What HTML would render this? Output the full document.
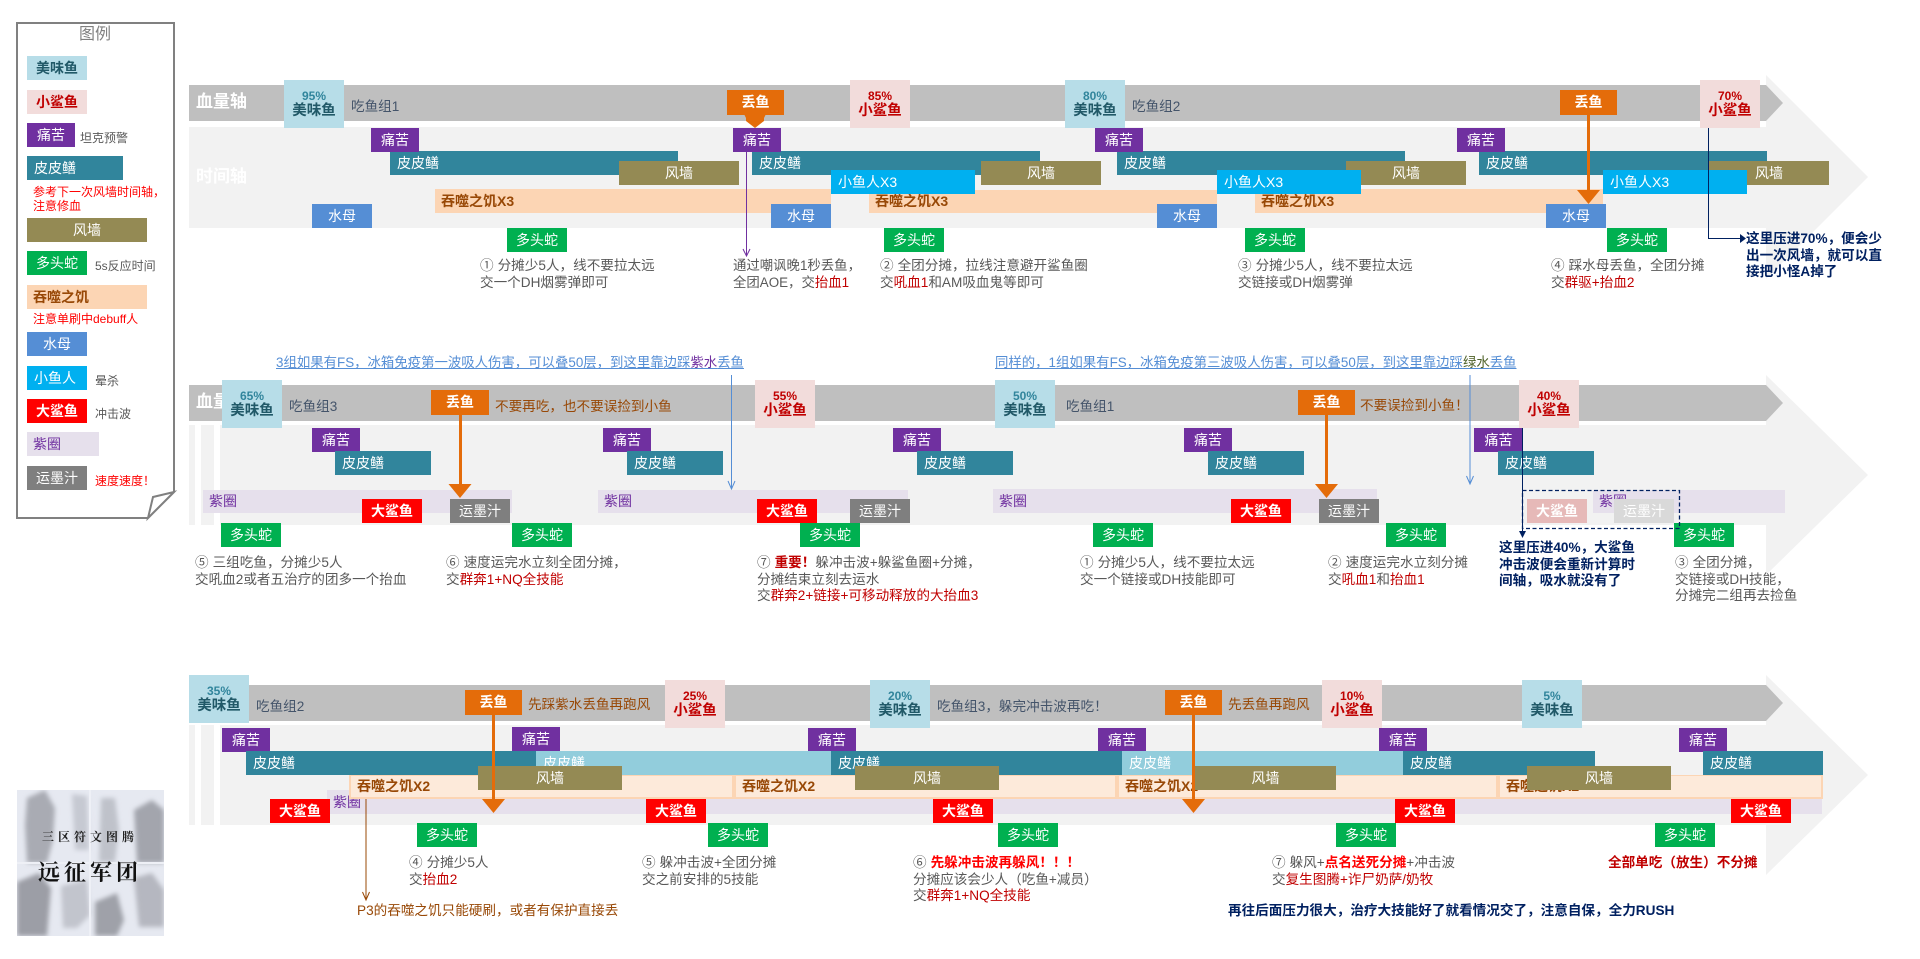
<!DOCTYPE html>
<html lang="zh"><head><meta charset="utf-8"><title>时间轴</title>
<style>
html,body{margin:0;padding:0;background:#fff;width:1920px;height:959px;overflow:hidden}
body{position:relative;font-family:"Liberation Sans","WenQuanYi Zen Hei","Noto Sans CJK SC",sans-serif;font-size:14px}
svg.a{position:absolute;left:0;top:0}
.n{position:absolute;height:24px;line-height:24px;color:#fff;text-align:center;white-space:nowrap;overflow:hidden;font-size:14px}
.t{width:48px;background:#7030a0}
.p{width:96px;background:#31859c;text-align:left;padding-left:7px;box-sizing:border-box}
.pl{background:#92cddc}
.f{width:120px;background:#948a54}
.d{width:60px;background:#00b050}
.s{width:60px;background:#558ed5}
.x{width:144px;background:#00b0f0;text-align:left;padding-left:7px;box-sizing:border-box}
.r{width:60px;background:#f00;font-weight:bold}
.y{width:60px;background:#7f7f7f}
.q{background:#fcd5b4;color:#984806;font-weight:bold;text-align:left;padding-left:6px;box-sizing:border-box}
.qb{height:24px;background:#fdeada;border:2px solid #fcd5b4;border-top-width:1px;box-sizing:border-box;line-height:21px}
.z{background:#e6e0ec;color:#7030a0;text-align:left;padding-left:6px;box-sizing:border-box;height:23px;line-height:23px}
.m,.k{position:absolute;width:60px;height:48px;text-align:center;white-space:nowrap;font-weight:bold;font-size:14.5px;line-height:15px;box-sizing:border-box;padding-top:9px}
.m{background:#b7dde8;color:#215968}
.k{background:#f2dcdb;color:#c00000}
.m i,.k i{display:block;font-style:normal;font-size:12px;line-height:14px;margin-bottom:1px;font-weight:bold}
.m i{color:#31859c}
.ml{width:60px;background:#b7dde8;color:#215968;font-weight:bold}
.kl{width:60px;background:#f2dcdb;color:#c00000;font-weight:bold}
.o{width:57px;height:25px;background:#e46c0a;font-weight:bold}
.l{position:absolute;white-space:nowrap;font-size:13.6px;line-height:16.5px;color:#595959}
.w{position:absolute;white-space:nowrap;font-weight:bold;font-size:17px;line-height:20px;color:#fff}
.g{position:absolute;white-space:nowrap;font-size:12px;line-height:14px;color:#595959}
.c{color:#c00000}.c2{color:#f00;font-weight:bold}
.b{color:#002060;font-weight:bold;font-size:13.6px}
.e{color:#984806;font-size:13.6px}
.h{color:#44546a;font-size:13.6px}
.u{color:#558ed5;text-decoration:underline;font-size:13.4px}
.v{margin-right:4px}
</style></head><body>

<svg class="a" width="1920" height="959">
<g fill="#f2f2f2">
<polygon points="189,127 1766,127 1766,75 1868,177 1766,279 1766,228 189,228"/>
<polygon points="220,425 1766,425 1766,375 1868,475 1766,575 1766,525 220,525"/>
<rect x="189" y="425" width="6" height="100"/><rect x="201" y="425" width="13" height="100"/>
<polygon points="220,725 1766,725 1766,675 1868,775 1766,875 1766,825 220,825"/>
<rect x="189" y="725" width="6" height="100"/><rect x="201" y="725" width="13" height="100"/>
</g>
<g fill="#bfbfbf">
<polygon points="189,85 1766,85 1783,103 1766,121 189,121"/>
<polygon points="189,385 1766,385 1783,403 1766,421 189,421"/>
<polygon points="189,685 1766,685 1783,703 1766,721 189,721"/>
</g>
<path d="M17 23H174V492L148 518H17Z" fill="#fff" stroke="#808080" stroke-width="2"/>
<path d="M174 492L153 497L148 518Z" fill="#fff" stroke="#808080" stroke-width="2"/>
</svg>

<!-- legend -->
<div class="l" style="left:79px;top:26px;font-size:16px;line-height:18px;color:#7f7f7f">图例</div>
<div class="n ml" style="left:27px;top:56px">美味鱼</div>
<div class="n kl" style="left:27px;top:90px">小鲨鱼</div>
<div class="n t" style="left:27px;top:123px">痛苦</div>
<div class="g" style="left:80px;top:131px">坦克预警</div>
<div class="n p" style="left:27px;top:156px">皮皮鳝</div>
<div class="g" style="left:33px;top:185px;color:#f00">参考下一次风墙时间轴，<br>注意修血</div>
<div class="n f" style="left:27px;top:218px">风墙</div>
<div class="n d" style="left:27px;top:251px">多头蛇</div>
<div class="g" style="left:95px;top:259px">5s反应时间</div>
<div class="n q" style="left:27px;top:285px;width:120px">吞噬之饥</div>
<div class="g" style="left:33px;top:312px;color:#f00">注意单刷中debuff人</div>
<div class="n s" style="left:27px;top:332px">水母</div>
<div class="n x" style="left:27px;top:366px;width:60px">小鱼人</div>
<div class="g" style="left:95px;top:374px">晕杀</div>
<div class="n r" style="left:27px;top:399px">大鲨鱼</div>
<div class="g" style="left:95px;top:407px">冲击波</div>
<div class="n z" style="left:27px;top:432px;width:72px;height:24px;line-height:24px">紫圈</div>
<div class="n y" style="left:27px;top:466px">运墨汁</div>
<div class="g" style="left:95px;top:474px;color:#f00">速度速度！</div>

<!-- row 1 -->
<div class="w" style="left:196px;top:92px">血量轴</div>
<div class="w" style="left:196px;top:167px">时间轴</div>
<div class="l h" style="left:351px;top:99px">吃鱼组1</div>
<div class="l h" style="left:1132px;top:99px">吃鱼组2</div>
<div class="n q" style="left:435px;top:189px;width:396px">吞噬之饥X3</div>
<div class="n q" style="left:869px;top:190px;width:348px;height:23px;line-height:23px">吞噬之饥X3</div>
<div class="n q" style="left:1255px;top:189px;width:348px">吞噬之饥X3</div>
<div class="n p" style="left:390px;top:151px;width:288px">皮皮鳝</div>
<div class="n p" style="left:752px;top:151px;width:288px">皮皮鳝</div>
<div class="n p" style="left:1117px;top:151px;width:288px">皮皮鳝</div>
<div class="n p" style="left:1479px;top:151px;width:288px">皮皮鳝</div>
<div class="n f" style="left:619px;top:161px">风墙</div>
<div class="n f" style="left:981px;top:161px">风墙</div>
<div class="n f" style="left:1346px;top:161px">风墙</div>
<div class="n f" style="left:1709px;top:161px">风墙</div>
<div class="n t" style="left:371px;top:128px">痛苦</div>
<div class="n t" style="left:733px;top:128px">痛苦</div>
<div class="n t" style="left:1095px;top:128px">痛苦</div>
<div class="n t" style="left:1457px;top:128px">痛苦</div>
<div class="n x" style="left:831px;top:170px">小鱼人X3</div>
<div class="n x" style="left:1217px;top:170px">小鱼人X3</div>
<div class="n x" style="left:1603px;top:170px">小鱼人X3</div>
<div class="n s" style="left:312px;top:204px">水母</div>
<div class="n s" style="left:771px;top:204px">水母</div>
<div class="n s" style="left:1157px;top:204px">水母</div>
<div class="n s" style="left:1546px;top:204px">水母</div>
<div class="n d" style="left:507px;top:228px">多头蛇</div>
<div class="n d" style="left:884px;top:228px">多头蛇</div>
<div class="n d" style="left:1245px;top:228px">多头蛇</div>
<div class="n d" style="left:1607px;top:228px">多头蛇</div>
<div class="m" style="left:284px;top:80px"><i>95%</i>美味鱼</div>
<div class="k" style="left:850px;top:80px"><i>85%</i>小鲨鱼</div>
<div class="m" style="left:1065px;top:80px"><i>80%</i>美味鱼</div>
<div class="k" style="left:1700px;top:80px"><i>70%</i>小鲨鱼</div>
<div class="l" style="left:480px;top:258px"><span class="v">①</span>分摊少5人，线不要拉太远<br>交一个DH烟雾弹即可</div>
<div class="l" style="left:733px;top:258px;font-size:13.4px">通过嘲讽晚1秒丢鱼，<br>全团AOE，交<span class="c">抬血1</span></div>
<div class="l" style="left:880px;top:258px"><span class="v">②</span>全团分摊，拉线注意避开鲨鱼圈<br>交<span class="c">吼血1</span>和AM吸血鬼等即可</div>
<div class="l" style="left:1238px;top:258px"><span class="v">③</span>分摊少5人，线不要拉太远<br>交链接或DH烟雾弹</div>
<div class="l" style="left:1551px;top:258px"><span class="v">④</span>踩水母丢鱼，全团分摊<br>交<span class="c">群驱+抬血2</span></div>
<div class="l b" style="left:1746px;top:231px">这里压进70%，便会少<br>出一次风墙，就可以直<br>接把小怪A掉了</div>

<!-- row 2 -->
<div class="l u" style="left:276px;top:355px">3组如果有FS，冰箱免疫第一波吸人伤害，可以叠50层，到这里靠边踩<span style="color:#7030a0">紫水</span>丢鱼</div>
<div class="l u" style="left:995px;top:355px">同样的，1组如果有FS，冰箱免疫第三波吸人伤害，可以叠50层，到这里靠边踩<span style="color:#4f6228">绿水</span>丢鱼</div>
<div class="w" style="left:196px;top:392px">血量轴</div>
<div class="l h" style="left:289px;top:399px">吃鱼组3</div>
<div class="l h" style="left:1066px;top:399px">吃鱼组1</div>
<div class="l e" style="left:495px;top:399px">不要再吃，也不要误捡到小鱼</div>
<div class="l e" style="left:1360px;top:398px">不要误捡到小鱼！</div>
<div class="n z" style="left:203px;top:490px;width:309px">紫圈</div>
<div class="n z" style="left:598px;top:490px;width:310px">紫圈</div>
<div class="n z" style="left:993px;top:489px;width:384px;height:24px;line-height:24px">紫圈</div>
<div class="n z" style="left:1593px;top:490px;width:192px">紫圈</div>
<div class="n t" style="left:312px;top:428px">痛苦</div>
<div class="n t" style="left:603px;top:428px">痛苦</div>
<div class="n t" style="left:893px;top:428px">痛苦</div>
<div class="n t" style="left:1184px;top:428px">痛苦</div>
<div class="n t" style="left:1474px;top:428px;width:49px">痛苦</div>
<div class="n p" style="left:335px;top:451px">皮皮鳝</div>
<div class="n p" style="left:627px;top:451px">皮皮鳝</div>
<div class="n p" style="left:917px;top:451px">皮皮鳝</div>
<div class="n p" style="left:1208px;top:451px">皮皮鳝</div>
<div class="n p" style="left:1498px;top:451px">皮皮鳝</div>
<div class="n r" style="left:362px;top:499px">大鲨鱼</div>
<div class="n r" style="left:757px;top:499px">大鲨鱼</div>
<div class="n r" style="left:1231px;top:499px">大鲨鱼</div>
<div class="n r" style="left:1527px;top:499px;background:#e6b9b8">大鲨鱼</div>
<div class="n y" style="left:450px;top:499px">运墨汁</div>
<div class="n y" style="left:850px;top:499px">运墨汁</div>
<div class="n y" style="left:1319px;top:499px">运墨汁</div>
<div class="n y" style="left:1614px;top:499px;background:#d9d9d9">运墨汁</div>
<div class="n d" style="left:221px;top:523px">多头蛇</div>
<div class="n d" style="left:512px;top:523px">多头蛇</div>
<div class="n d" style="left:800px;top:523px">多头蛇</div>
<div class="n d" style="left:1093px;top:523px">多头蛇</div>
<div class="n d" style="left:1386px;top:523px">多头蛇</div>
<div class="n d" style="left:1674px;top:523px">多头蛇</div>
<div class="m" style="left:222px;top:380px"><i>65%</i>美味鱼</div>
<div class="k" style="left:755px;top:380px"><i>55%</i>小鲨鱼</div>
<div class="m" style="left:995px;top:380px"><i>50%</i>美味鱼</div>
<div class="k" style="left:1519px;top:380px"><i>40%</i>小鲨鱼</div>
<div class="l" style="left:195px;top:555px"><span class="v">⑤</span>三组吃鱼，分摊少5人<br>交吼血2或者五治疗的团多一个抬血</div>
<div class="l" style="left:446px;top:555px"><span class="v">⑥</span>速度运完水立刻全团分摊，<br>交<span class="c">群奔1+NQ全技能</span></div>
<div class="l" style="left:757px;top:555px"><span class="v">⑦</span><span class="c2" style="color:#c00000">重要！</span>躲冲击波+躲鲨鱼圈+分摊，<br>分摊结束立刻去运水<br>交<span class="c">群奔2+链接+可移动释放的大抬血3</span></div>
<div class="l" style="left:1080px;top:555px"><span class="v">①</span>分摊少5人，线不要拉太远<br>交一个链接或DH技能即可</div>
<div class="l" style="left:1328px;top:555px"><span class="v">②</span>速度运完水立刻分摊<br>交<span class="c">吼血1</span>和<span class="c">抬血1</span></div>
<div class="l" style="left:1675px;top:555px"><span class="v">③</span>全团分摊，<br>交链接或DH技能，<br>分摊完二组再去捡鱼</div>
<div class="l b" style="left:1499px;top:540px">这里压进40%，大鲨鱼<br>冲击波便会重新计算时<br>间轴，吸水就没有了</div>

<!-- row 3 -->
<div class="l h" style="left:256px;top:699px">吃鱼组2</div>
<div class="l h" style="left:937px;top:699px">吃鱼组3，躲完冲击波再吃！</div>
<div class="l e" style="left:528px;top:697px">先踩紫水丢鱼再跑风</div>
<div class="l e" style="left:1228px;top:697px">先丢鱼再跑风</div>
<div class="n z" style="left:327px;top:790px;width:1495px;height:24px;line-height:24px">紫圈</div>
<div class="n q qb" style="left:349px;top:775px;width:385px">吞噬之饥X2</div>
<div class="n q qb" style="left:734px;top:775px;width:383px">吞噬之饥X2</div>
<div class="n q qb" style="left:1117px;top:775px;width:381px">吞噬之饥X2</div>
<div class="n q qb" style="left:1498px;top:775px;width:325px">吞噬之饥X2</div>
<div class="n t" style="left:222px;top:728px">痛苦</div>
<div class="n t" style="left:512px;top:727px">痛苦</div>
<div class="n t" style="left:808px;top:728px">痛苦</div>
<div class="n t" style="left:1098px;top:728px">痛苦</div>
<div class="n t" style="left:1379px;top:728px">痛苦</div>
<div class="n t" style="left:1679px;top:728px">痛苦</div>
<div class="n p" style="left:246px;top:751px;width:290px">皮皮鳝</div>
<div class="n p pl" style="left:536px;top:751px;width:295px">皮皮鳝</div>
<div class="n p" style="left:831px;top:751px;width:291px">皮皮鳝</div>
<div class="n p pl" style="left:1122px;top:751px;width:281px">皮皮鳝</div>
<div class="n p" style="left:1403px;top:751px;width:192px">皮皮鳝</div>
<div class="n p" style="left:1703px;top:751px;width:120px">皮皮鳝</div>
<div class="n f" style="left:478px;top:766px;width:144px">风墙</div>
<div class="n f" style="left:855px;top:766px;width:144px">风墙</div>
<div class="n f" style="left:1195px;top:766px;width:141px">风墙</div>
<div class="n f" style="left:1527px;top:766px;width:144px">风墙</div>
<div class="n r" style="left:270px;top:799px">大鲨鱼</div>
<div class="n r" style="left:646px;top:799px">大鲨鱼</div>
<div class="n r" style="left:933px;top:799px">大鲨鱼</div>
<div class="n r" style="left:1395px;top:799px">大鲨鱼</div>
<div class="n r" style="left:1731px;top:799px">大鲨鱼</div>
<div class="n d" style="left:417px;top:823px">多头蛇</div>
<div class="n d" style="left:708px;top:823px">多头蛇</div>
<div class="n d" style="left:998px;top:823px">多头蛇</div>
<div class="n d" style="left:1336px;top:823px">多头蛇</div>
<div class="n d" style="left:1655px;top:823px">多头蛇</div>
<div class="m" style="left:189px;top:675px"><i>35%</i>美味鱼</div>
<div class="k" style="left:665px;top:680px"><i>25%</i>小鲨鱼</div>
<div class="m" style="left:870px;top:680px"><i>20%</i>美味鱼</div>
<div class="k" style="left:1322px;top:680px"><i>10%</i>小鲨鱼</div>
<div class="m" style="left:1522px;top:680px"><i>5%</i>美味鱼</div>
<div class="l" style="left:409px;top:855px"><span class="v">④</span>分摊少5人<br>交<span class="c">抬血2</span></div>
<div class="l" style="left:642px;top:855px"><span class="v">⑤</span>躲冲击波+全团分摊<br>交之前安排的5技能</div>
<div class="l" style="left:913px;top:855px"><span class="v">⑥</span><span class="c2">先躲冲击波再躲风！！！</span><br>分摊应该会少人（吃鱼+减员）<br>交<span class="c">群奔1+NQ全技能</span></div>
<div class="l" style="left:1272px;top:855px"><span class="v">⑦</span>躲风+<span class="c2">点名送死分摊</span>+冲击波<br>交<span class="c">复生图腾+诈尸奶萨/奶牧</span></div>
<div class="l" style="left:1608px;top:855px;color:#c00000;font-weight:bold">全部单吃（放生）不分摊</div>
<div class="l" style="left:357px;top:903px;color:#984806">P3的吞噬之饥只能硬刷，或者有保护直接丢</div>
<div class="l b" style="left:1228px;top:903px">再往后面压力很大，治疗大技能好了就看情况交了，注意自保，全力RUSH</div>

<!-- connectors -->
<svg class="a" width="1920" height="959" fill="none">
<path d="M746.5 152V255M743 249L746.5 256L750 249" stroke="#7030a0"/>
<path d="M731.5 375V488M728 481L731.5 489L735 481" stroke="#558ed5"/>
<path d="M1470 375V483M1466.500 476L1470 484L1473.500 476" stroke="#558ed5"/>
<path d="M366 799V899M362.500 892L366 900L369.500 892" stroke="#984806"/>
<path d="M1708.500 128V238.500H1740" stroke="#002060"/>
<polygon points="1740,234 1746,238.500 1740,243" fill="#002060"/>
<path d="M1522.500 428V531" stroke="#002060"/>
<polygon points="1519,531 1526,531 1522.500,538" fill="#002060"/>
<rect x="1522.500" y="490.500" width="157" height="38" stroke="#002060" stroke-width="1.300" stroke-dasharray="4 2.500"/>
<g fill="#e46c0a">
<path d="M744 114H766L764 118H746Z"/>
<polygon points="746,118 764,118 764,121 755,128 746,121"/>
<rect x="1587" y="115" width="3" height="76"/><polygon points="1577,190 1600,190 1588.500,204"/>
<rect x="459" y="415" width="3" height="70"/><polygon points="448.500,484 471.500,484 460,498"/>
<rect x="1325" y="415" width="3" height="70"/><polygon points="1315,484 1338,484 1326.500,498"/>
<rect x="492" y="715" width="3" height="85"/><polygon points="482,799 505,799 493.500,813"/>
<rect x="1192" y="715" width="3" height="85"/><polygon points="1182,799 1205,799 1193.500,813"/>
</g>
</svg>

<div class="n o" style="left:727px;top:90px">丢鱼</div>
<div class="n o" style="left:1560px;top:90px">丢鱼</div>
<div class="n o" style="left:431px;top:390px;width:58px">丢鱼</div>
<div class="n o" style="left:1298px;top:390px">丢鱼</div>
<div class="n o" style="left:465px;top:690px">丢鱼</div>
<div class="n o" style="left:1165px;top:690px">丢鱼</div>

<!-- poster image -->
<svg class="a" style="left:17px;top:790px" width="147" height="146" viewBox="0 0 147 146">
<defs><filter id="bl"><feGaussianBlur stdDeviation="2.500"/></filter></defs>
<rect width="147" height="146" fill="#e6e9f1"/>
<g filter="url(#bl)" fill="#a9abb3">
<path d="M10 8L28 0L38 18L36 50L30 73H10L8 35Z"/>
<path d="M55 4L70 6L72 60H58Z" fill="#c6c9d2"/>
<path d="M84 8L98 8L102 40L98 72H82Z" fill="#bfc2ca"/>
<path d="M117 20L135 10L147 20V73H120Z" fill="#a3a5ad"/>
<path d="M0 92L22 83L34 98L30 146H0Z" fill="#9c9ea6"/>
<path d="M44 96L70 90L73 125L60 138H46Z" fill="#c2c5cd"/>
<path d="M78 112L100 103L107 130L100 146H78Z" fill="#9fa1a9"/>
<path d="M117 88L135 83L147 100V137H122Z" fill="#b5b7c0"/>
</g>
<rect x="0" y="72" width="147" height="2" fill="#eef0f6"/>
<rect x="72" y="0" width="2" height="146" fill="#eef0f6"/>
<text x="73" y="51" text-anchor="middle" font-size="12" font-weight="bold" letter-spacing="4" fill="#222" font-family="'Noto Serif CJK SC',serif">三区符文图腾</text>
<text x="73" y="90" text-anchor="middle" font-size="22" font-weight="bold" letter-spacing="4" fill="#111" font-family="'Noto Serif CJK SC',serif">远征军团</text>
</svg>
</body></html>
